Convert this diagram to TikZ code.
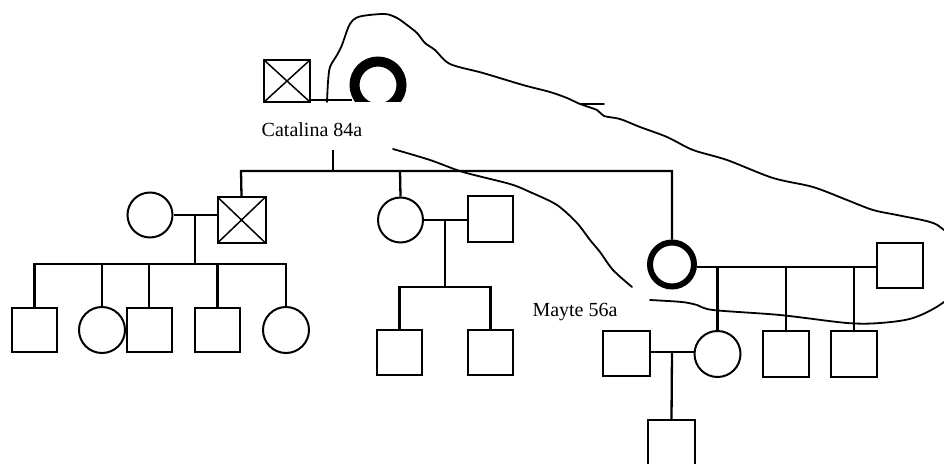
\documentclass[tikz,border=0pt]{standalone}
\usepackage{fontspec}
\setmainfont{Liberation Serif}
\begin{document}
\begin{tikzpicture}[x=1pt,y=-1pt,
  ln/.style={line width=2.3pt},
  sq/.style={draw,line width=2pt,rectangle,inner sep=0pt,minimum width=45pt,minimum height=45pt},
  ci/.style={draw,line width=2pt,circle,inner sep=0pt,minimum size=45pt},
  thick circ/.style={draw,line width=6pt,circle,inner sep=0pt,minimum size=44pt},
  dead/.style={sq,path picture={\draw[line width=1.5pt] (path picture bounding box.north west) -- (path picture bounding box.south east) (path picture bounding box.north east) -- (path picture bounding box.south west);}},
  lbl/.style={font=\fontsize{20}{22}\selectfont,inner sep=0pt},
  hand/.style={line width=1.8pt,line cap=round,line join=round}]
\useasboundingbox (0,0) rectangle (944,463);
\clip (0,0) rectangle (944,463);
% generation I
\node[dead,minimum width=46pt,minimum height=42pt] (gf) at (287,81) {};
\begin{scope}
\clip (335,40) rectangle (425,101);
\node[draw,line width=10pt,circle,inner sep=0pt,minimum size=47pt] (gm) at (378,85) {};
\end{scope}
\coordinate (gfm) at (310,100);
\coordinate (gmm) at (352,100);
\draw[ln] (gfm) -- (gmm);
\node[lbl] (cat) at (312,130) {Catalina 84a};
\coordinate (cd1) at (333,150);
\coordinate (cd2) at (333,171);
\coordinate (sl) at (241,171);
\coordinate (sr) at (672,171);
\coordinate (sm) at (400,171);
\draw[ln] (cd1) -- (cd2);
% generation II
\node[ci] (a1) at (150,215) {};
\node[dead,minimum width=48pt,minimum height=46pt] (a2) at (241.5,220) {};
\node[ci] (b1) at (400.5,220) {};
\node[sq,minimum height=46pt] (b2) at (490.5,219) {};
\node[thick circ] (c1) at (672,264.5) {};
\node[sq,minimum width=46pt] (c2) at (900,265.5) {};
\draw[ln] (a2.north) -- (sl) -- (sr) -- (c1.north);
\draw[ln] (sm) -- (b1.north);
% family A
\coordinate (am) at (195,215);
\coordinate (ac) at (195,264);
\draw[ln] (a1.east) -- (a2.west |- a1.east);
\draw[ln] (am) -- (ac);
\node[sq,minimum height=44pt] (a11) at (34.5,330) {};
\node[ci,minimum size=46pt] (a12) at (102,330) {};
\node[sq,minimum height=44pt] (a13) at (149,330) {};
\node[sq,minimum height=44pt] (a14) at (217.5,330) {};
\node[ci,minimum size=46pt] (a15) at (286,330) {};
\draw[ln] (a11.north) -- (a11.north |- ac) -- (a15.north |- ac) -- (a15.north);
\draw[ln] (a12.north) -- (a12.north |- ac);
\draw[ln] (a13.north) -- (a13.north |- ac);
\draw[ln] (a14.north) -- (a14.north |- ac);
% family B
\coordinate (bm) at (445,219);
\coordinate (bc) at (445,287);
\draw[ln] (b1.east) -- (b2.west |- b1.east);
\draw[ln] (bm) -- (bc);
\node[sq] (b11) at (399.5,352.5) {};
\node[sq] (b12) at (490.5,352.5) {};
\draw[ln] (b11.north) -- (b11.north |- bc) -- (b12.north |- bc) -- (b12.north);
% family C
\coordinate (cm) at (697,267);
\draw[ln] (c1.east |- cm) -- (c2.west |- cm);
\node[ci,minimum size=46pt] (c11) at (717.5,354) {};
\node[sq,minimum width=46pt,minimum height=46pt] (c12) at (786,354) {};
\node[sq,minimum width=46pt,minimum height=46pt] (c13) at (854,354) {};
\draw[ln] (c11.north) -- (c11.north |- cm);
\draw[ln] (c12.north) -- (c12.north |- cm);
\draw[ln] (c13.north) -- (c13.north |- cm);
% family D
\node[sq,minimum width=47pt] (d1) at (626.5,353.5) {};
\coordinate (dm) at (672,352);
\draw[ln] (d1.east |- dm) -- (c11.west |- dm);
\node[sq,minimum width=47pt,minimum height=46pt] (d11) at (671.5,443) {};
\draw[ln] (dm) -- (d11.north);
\node[lbl] (may) at (575,312) {Mayte 56a};
% hand-drawn enclosure
\draw[hand] plot[smooth,tension=0.5] coordinates {
 (327,102) (328,82) (330,67) (337,55) (342,45) (348,28) (353,20) (362,16) (385,14) (397,18)
 (407,25) (417,33) (425,43) (435,50) (450,64) (483,73) (523,85) (550,92) (567,98) (580,104)
 (597,110) (604,116) (620,119) (640,127) (667,137) (693,150) (727,160) (773,178) (813,187)
 (847,200) (873,210) (897,215) (930,222) (944,230) (985,265) (944,302) (913,318) (880,323)
 (847,323) (780,315) (713,310) (697,305) (682,302) (650,300)};
\coordinate (tk1) at (580,104);
\coordinate (tk2) at (604,104);
\draw[hand] (tk1) -- (tk2);
\draw[hand] plot[smooth,tension=0.5] coordinates {
 (393,149) (430,160) (463,172) (510,184) (530,192) (557,205) (577,223) (590,240) (600,252)
 (613,270) (632,287)};
\end{tikzpicture}
\end{document}
